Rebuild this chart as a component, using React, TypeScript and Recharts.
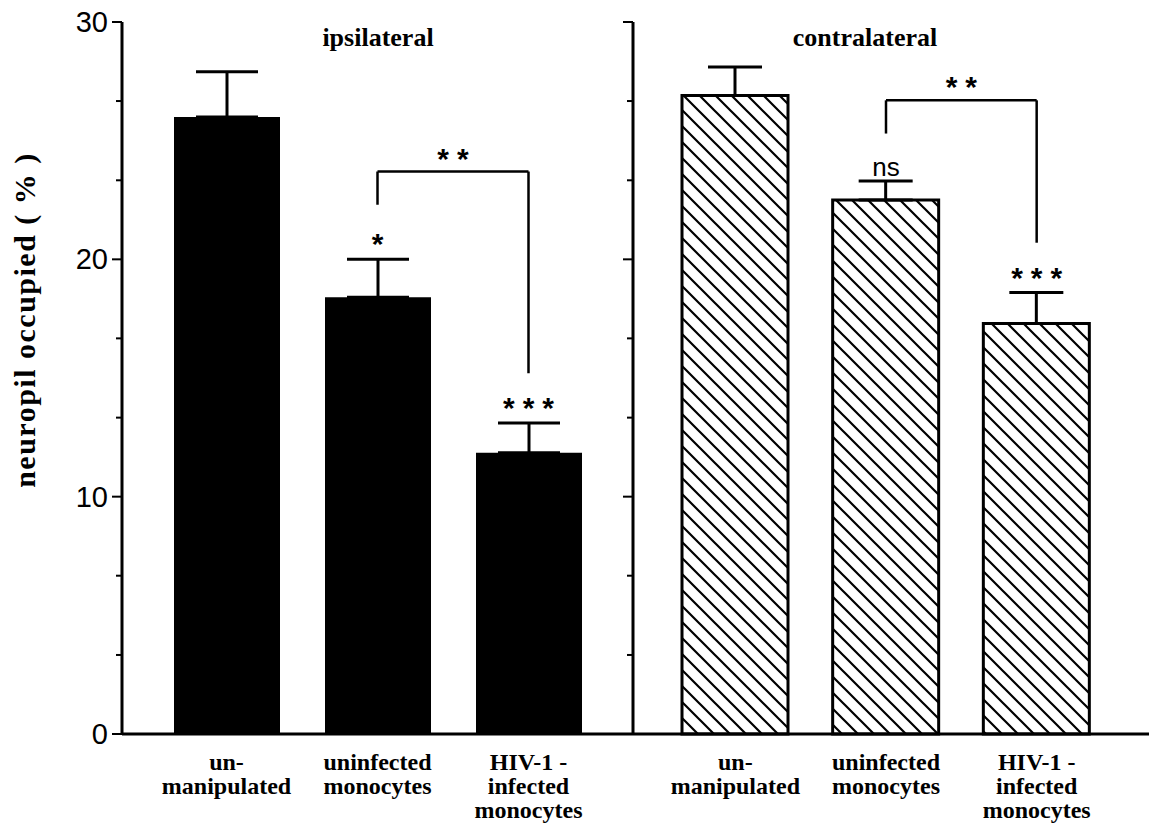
import { BarChart, Bar, XAxis, YAxis, ErrorBar, ReferenceLine, ReferenceDot } from "recharts";

// categories and tick text
const categories = ["un-manipulated", "uninfected monocytes", "HIV-1 - infected monocytes"];
const categoryLines = [["un-", "manipulated"], ["uninfected", "monocytes"], ["HIV-1 -", "infected", "monocytes"]];

// ipsilateral side
const ipsiMeans = [26.0, 18.4, 11.85];
const ipsiErrors = [1.9, 1.6, 1.25];
const ipsiMarks = ["", "*", "***"];

// contralateral side
const contraMeans = [26.9, 22.5, 17.3];
const contraErrors = [1.2, 0.8, 1.3];
const contraMarks = ["", "ns", "***"];

// y axis
const yTicks = [0, 3.33, 6.67, 10, 13.33, 16.67, 20, 23.33, 26.67, 30];
const yLabels = [0, 10, 20, 30];

// comparison brackets: left foot, top, right foot
const ipsiBracket = [22.3, 23.7, 15.2];
const contraBracket = [25.3, 26.7, 20.7];
const bracketLabel = "**";

const SERIF = '"Liberation Serif", "Times New Roman", serif';
const SANS = '"Liberation Sans", Arial, sans-serif';

const ipsiData = categories.map((name, i) => ({ name, value: ipsiMeans[i], err: [0, ipsiErrors[i]] }));
const contraData = categories.map((name, i) => ({ name, value: contraMeans[i], err: [0, contraErrors[i]] }));

const makeYTick = (withLabel: boolean) => (props: any) => {
    const { x, y, payload } = props;
    const major = yLabels.includes(payload.value);
    const len = major ? 10 : 6;
    return (
        <g>
            <line x1={x - len} y1={y} x2={x} y2={y} stroke="#000" strokeWidth={2} />
            {withLabel && major && (
                <text x={x - 14} y={y} dy={10} textAnchor="end" fontFamily={SANS} fontSize={29} fill="#000">
                    {payload.value}
                </text>
            )}
        </g>
    );
};

const XTick = (props: any) => {
    const { x, y, payload } = props;
    const lines = categoryLines[categories.indexOf(payload.value)] || [];
    return (
        <text textAnchor="middle" fontFamily={SERIF} fontWeight="bold" fontSize={24} fill="#000">
            {lines.map((l, i) => (
                <tspan key={i} x={x} y={y + 36 + i * 24}>{l}</tspan>
            ))}
        </text>
    );
};

const markText = (text: string, offset: number) => (p: any) => {
    const vb = p.viewBox || {};
    const cx = vb.x + (vb.width || 0) / 2;
    const isNs = text === "ns";
    const spacing = isNs ? 0 : 8;
    return (
        <text x={cx} y={vb.y - offset} dx={spacing / 2} textAnchor="middle" fontFamily={SANS}
            fontSize={isNs ? 26 : 30} fontWeight={isNs ? "normal" : "bold"} letterSpacing={spacing} fill="#000">
            {text}
        </text>
    );
};

const renderMarks = (means: number[], errs: number[], marks: string[]) =>
    categories.map((c, i) =>
        marks[i] ? (
            <ReferenceDot key={"m" + i} x={c} y={means[i] + errs[i]} r={0} fill="none" stroke="none"
                label={{ content: markText(marks[i], 5) }} />
        ) : null
    );

const renderBracket = (b: number[]) => [
    <ReferenceLine key="b1" segment={[{ x: categories[1], y: b[0] }, { x: categories[1], y: b[1] }]}
        stroke="#000" strokeWidth={2.5} />,
    <ReferenceLine key="b2" segment={[{ x: categories[1], y: b[1] }, { x: categories[2], y: b[1] }]}
        stroke="#000" strokeWidth={2.5} label={{ content: markText(bracketLabel, 3) }} />,
    <ReferenceLine key="b3" segment={[{ x: categories[2], y: b[1] }, { x: categories[2], y: b[2] }]}
        stroke="#000" strokeWidth={2.5} />,
];

const yTitle = () => (
    <text x={35} y={320} transform="rotate(-90, 35, 320)" textAnchor="middle" fontFamily={SERIF}
        fontWeight="bold" fontSize={30} letterSpacing={1.5} fill="#000">
        neuropil occupied ( % )
    </text>
);

const axisLine = { stroke: "#000", strokeWidth: 3 };

const titleStyle = (cx: number): React.CSSProperties => ({
    position: "absolute", left: cx - 120, top: 26, width: 240, textAlign: "center",
    fontFamily: SERIF, fontWeight: "bold", fontSize: 26, lineHeight: "24px", color: "#000",
});

export default function App() {
    return (
        <div style={{ position: "absolute", left: 0, top: 0, width: 1149, height: 823, background: "#fff", overflow: "hidden" }}>
            <div style={{ position: "absolute", left: 0, top: 0 }}>
                <BarChart width={640} height={823} data={ipsiData} margin={{ top: 22, right: 7, bottom: 0, left: 0 }}>
                    <XAxis dataKey="name" height={89} padding={{ left: 29, right: 29 }} tickSize={0} tickMargin={0}
                        axisLine={axisLine} tickLine={false} tick={<XTick />} interval={0} />
                    <XAxis xAxisId="top" dataKey="name" orientation="top" height={0} tick={false} tickLine={false}
                        axisLine={axisLine} />
                    <YAxis width={122} domain={[0, 30]} ticks={yTicks} interval={0} tickSize={0} tickMargin={0}
                        tickLine={false} axisLine={axisLine} tick={makeYTick(true)} label={{ content: yTitle }} />
                    <Bar dataKey="value" fill="#000" barSize={106} isAnimationActive={false}>
                        <ErrorBar dataKey="err" width={31} stroke="#000" strokeWidth={3} direction="y" />
                    </Bar>
                    {renderBracket(ipsiBracket)}
                    {renderMarks(ipsiMeans, ipsiErrors, ipsiMarks)}
                </BarChart>
            </div>
            <div style={{ position: "absolute", left: 620, top: 0 }}>
                <BarChart width={529} height={823} data={contraData} margin={{ top: 22, right: 0, bottom: 0, left: 0 }}>
                    <defs>
                        <pattern id="hatch" patternUnits="userSpaceOnUse" width={16} height={16}>
                            <rect width={16} height={16} fill="#fff" />
                            <path d="M-4,-4 L20,20 M-4,12 L4,20 M12,-4 L20,4" stroke="#000" strokeWidth={2.2} />
                        </pattern>
                    </defs>
                    <XAxis dataKey="name" height={89} padding={{ left: 27, right: 37 }} tickSize={0} tickMargin={0}
                        axisLine={axisLine} tickLine={false} tick={<XTick />} interval={0} />
                    <XAxis xAxisId="top" dataKey="name" orientation="top" height={0} tick={false} tickLine={false}
                        axisLine={axisLine} />
                    <YAxis width={13} domain={[0, 30]} ticks={yTicks} interval={0} tickSize={0} tickMargin={0}
                        tickLine={false} axisLine={axisLine} tick={makeYTick(false)} />
                    <Bar dataKey="value" fill="url(#hatch)" stroke="#000" strokeWidth={3} barSize={106} isAnimationActive={false}>
                        <ErrorBar dataKey="err" width={27} stroke="#000" strokeWidth={3} direction="y" />
                    </Bar>
                    {renderBracket(contraBracket)}
                    {renderMarks(contraMeans, contraErrors, contraMarks)}
                </BarChart>
            </div>
            <div style={titleStyle(378)}>ipsilateral</div>
            <div style={titleStyle(865)}>contralateral</div>
        </div>
    );
}
